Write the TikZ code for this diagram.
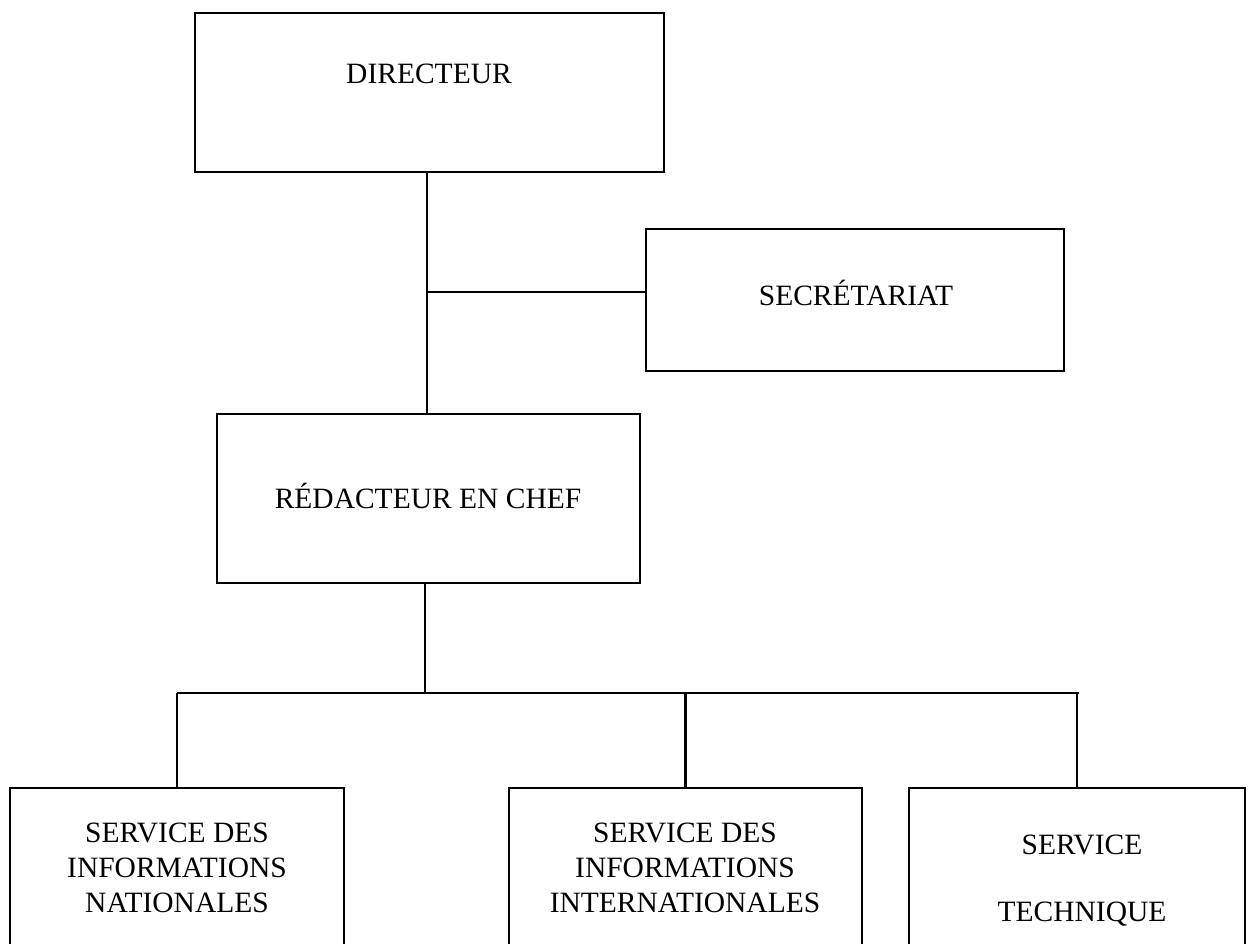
\documentclass[tikz,border=0pt]{standalone}
\usepackage{fontspec}
\setmainfont{Liberation Serif}
\begin{document}
\begin{tikzpicture}[x=1pt,y=-1pt,
  box/.style={draw=black,line width=2.4pt,rectangle,inner sep=0pt},
  lbl/.style={inner sep=0pt,align=center,font=\fontsize{29.5}{35}\selectfont},
  link/.style={draw=black,line width=2.4pt}]
\useasboundingbox[fill=white] (0,0) rectangle (1251,943);
\clip (0,0) rectangle (1251,943);
% boxes
\node[box,minimum width=469pt,minimum height=159pt] (dir) at (429.5,92.5) {};
\node[lbl] (dirt) at (429,74) {DIRECTEUR};
\node[box,minimum width=418pt,minimum height=142pt] (sec) at (855,300) {};
\node[lbl] (sect) at (856,293) {SECRÉTARIAT};
\node[box,minimum width=423pt,minimum height=169pt] (red) at (428.5,498.5) {};
\node[lbl] (redt) at (428,496) {RÉDACTEUR EN CHEF};
\node[box,minimum width=334pt,minimum height=180pt] (nat) at (177,878) {};
\node[lbl] (natt) at (177,868) {SERVICE DES\\INFORMATIONS\\NATIONALES};
\node[box,minimum width=353pt,minimum height=180pt] (int) at (685.5,878) {};
\node[lbl] (intt) at (685,868) {SERVICE DES\\INFORMATIONS\\INTERNATIONALES};
\node[box,minimum width=336pt,minimum height=180pt] (tec) at (1077,878) {};
\node[lbl] (tect) at (1082,881) {SERVICE\\[32pt]TECHNIQUE};
% connectors
\coordinate (t1) at (427,172);
\coordinate (j1) at (427,292);
\coordinate (t2) at (427,414);
\draw[link] (t1) -- (t2);
\draw[link] (j1) -- (j1 -| sec.west);
\coordinate (r1) at (425,583);
\coordinate (bus) at (425,693);
\coordinate (busl) at (177,693);
\coordinate (busr) at (1079,693);
\draw[link] (r1) -- (bus);
\draw[link] (busl) -- (busr);
\draw[link] (busl) -- (busl |- nat.north);
\draw[link] (bus -| int.north) -- (int.north);
\draw[link] (busr -| tec.north) -- (tec.north);
\end{tikzpicture}
\end{document}
